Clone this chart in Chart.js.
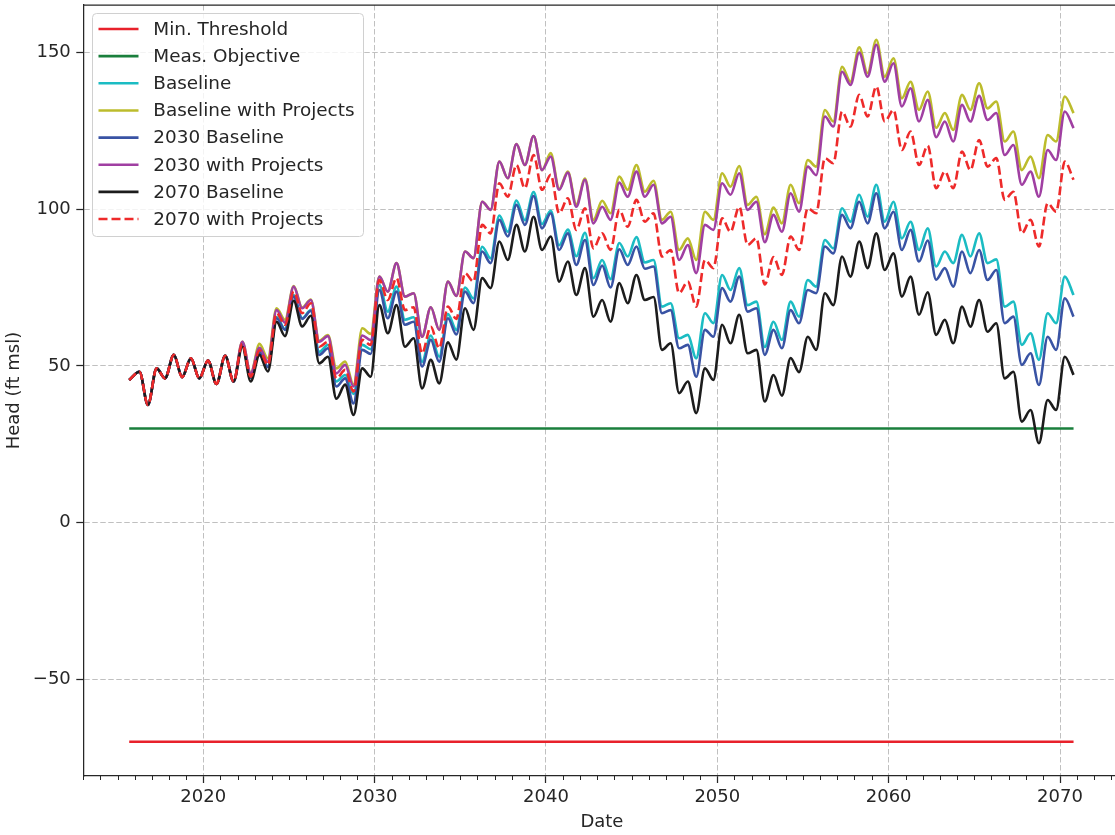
<!DOCTYPE html>
<html>
<head>
<meta charset="utf-8">
<script src="https://cdn.jsdelivr.net/npm/chart.js@4.4.1/dist/chart.umd.min.js"></script>
<style>
html, body { margin: 0; padding: 0; background: #ffffff; overflow: hidden; width: 1115px; height: 835px; }
#wrap { position: absolute; left: 0; top: 0; width: 1125px; height: 835px; }
canvas { display: block; }
</style>
</head>
<body>
<div id="wrap"><canvas id="c" width="1125" height="835" style="width:1125px;height:835px"></canvas></div>
<script>
// ---- sample dates (decimal years: seasonal highs ~.28, lows ~.77) ----
const dates = [2015.68,
  2016.28, 2016.77, 2017.28, 2017.77, 2018.28, 2018.77, 2019.28, 2019.77, 2020.28, 2020.77,
  2021.28, 2021.77, 2022.28, 2022.77, 2023.28, 2023.77, 2024.28, 2024.77, 2025.28, 2025.77,
  2026.28, 2026.77, 2027.28, 2027.77, 2028.28, 2028.77, 2029.28, 2029.77, 2030.28, 2030.77,
  2031.28, 2031.77, 2032.28, 2032.77, 2033.28, 2033.77, 2034.28, 2034.77, 2035.28, 2035.77,
  2036.28, 2036.77, 2037.28, 2037.77, 2038.28, 2038.77, 2039.28, 2039.77, 2040.28, 2040.77,
  2041.28, 2041.77, 2042.28, 2042.77, 2043.28, 2043.77, 2044.28, 2044.77, 2045.28, 2045.77,
  2046.28, 2046.77, 2047.28, 2047.77, 2048.28, 2048.77, 2049.28, 2049.77, 2050.28, 2050.77,
  2051.28, 2051.77, 2052.28, 2052.77, 2053.28, 2053.77, 2054.28, 2054.77, 2055.28, 2055.77,
  2056.28, 2056.77, 2057.28, 2057.77, 2058.28, 2058.77, 2059.28, 2059.77, 2060.28, 2060.77,
  2061.28, 2061.77, 2062.28, 2062.77, 2063.28, 2063.77, 2064.28, 2064.77, 2065.28, 2065.77,
  2066.28, 2066.77, 2067.28, 2067.77, 2068.28, 2068.77, 2069.28, 2069.77, 2070.28, 2070.79];

// ---- head values (ft msl) ----
const baseline = [45.5,
  48.1, 37.5, 49.2, 46.0, 53.5, 46.4, 52.4, 46.0, 51.7, 44.2,
  53.2, 45.0, 56.8, 46.2, 54.5, 49.8, 65.6, 61.7, 72.6, 65.2,
  67.8, 54.5, 56.7, 45.0, 47.1, 41.0, 56.7, 55.3, 75.8, 67.3,
  75.3, 64.7, 65.5, 51.3, 59.7, 52.9, 66.5, 61.5, 75.0, 71.5,
  88.0, 84.3, 98.0, 92.8, 102.8, 96.5, 105.5, 95.3, 99.5, 88.5,
  93.5, 85.0, 92.5, 78.0, 83.8, 77.7, 89.2, 84.9, 91.1, 83.0,
  83.8, 68.9, 70.0, 58.8, 59.9, 52.4, 66.8, 63.6, 79.0, 74.2,
  81.2, 69.4, 70.5, 56.0, 64.1, 58.3, 70.5, 65.7, 77.4, 75.3,
  90.2, 87.5, 100.3, 96.0, 104.6, 97.6, 107.8, 96.0, 102.4, 90.7,
  96.0, 87.0, 93.9, 81.7, 86.5, 82.8, 91.8, 84.9, 92.3, 82.8,
  84.0, 68.9, 70.5, 56.7, 60.4, 51.9, 66.8, 63.6, 78.5, 72.6];

const baselineProjects = [45.5,
  48.1, 37.5, 49.2, 46.0, 53.5, 46.4, 52.4, 46.0, 51.7, 44.2,
  53.2, 45.0, 57.7, 47.6, 57.0, 52.4, 68.4, 64.7, 75.5, 68.6,
  71.2, 58.0, 59.8, 49.2, 51.4, 44.0, 62.0, 60.2, 78.5, 73.7,
  82.8, 72.1, 73.2, 59.3, 68.7, 61.5, 76.9, 72.3, 86.5, 84.4,
  102.4, 99.8, 115.2, 109.9, 120.8, 114.1, 123.4, 112.5, 117.9, 106.5,
  112.0, 101.5, 109.8, 96.6, 102.7, 98.7, 110.4, 106.2, 114.1, 105.6,
  109.1, 96.6, 99.2, 87.0, 90.7, 83.8, 99.2, 96.6, 111.5, 107.2,
  113.8, 101.4, 104.0, 92.0, 100.5, 95.5, 107.8, 101.9, 115.7, 113.6,
  131.7, 128.0, 145.5, 140.7, 151.7, 143.4, 154.1, 142.3, 148.2, 135.4,
  140.7, 131.7, 137.6, 126.0, 130.7, 125.3, 136.5, 131.7, 140.2, 132.2,
  134.4, 121.6, 124.8, 112.5, 116.8, 109.9, 123.7, 121.6, 136.0, 130.7];

const baseline2030 = [45.5,
  48.1, 37.5, 49.2, 46.0, 53.5, 46.4, 52.4, 46.0, 51.7, 44.2,
  53.2, 45.0, 56.8, 46.2, 54.3, 49.6, 65.2, 61.5, 72.1, 65.0,
  67.5, 53.5, 55.6, 43.4, 46.0, 38.0, 55.1, 53.8, 74.2, 65.2,
  73.7, 63.1, 64.1, 49.8, 58.3, 51.3, 65.2, 60.0, 73.7, 70.0,
  86.5, 82.8, 96.6, 91.3, 101.4, 95.0, 104.2, 93.9, 98.7, 87.0,
  92.3, 82.2, 90.2, 75.8, 82.0, 75.0, 87.2, 82.2, 88.1, 81.0,
  81.7, 66.8, 67.8, 55.6, 56.7, 46.5, 61.5, 59.3, 74.8, 70.5,
  78.5, 67.3, 68.4, 53.5, 61.5, 55.6, 67.8, 63.6, 74.2, 73.2,
  88.1, 85.9, 98.2, 93.9, 102.4, 95.5, 105.1, 93.9, 99.2, 87.0,
  93.4, 83.3, 90.0, 77.5, 81.2, 75.3, 86.5, 79.6, 87.0, 77.4,
  80.6, 63.6, 65.7, 50.3, 54.0, 43.9, 59.3, 55.1, 71.6, 65.7];

const projects2030 = [45.5,
  48.1, 37.5, 49.2, 46.0, 53.5, 46.4, 52.4, 46.0, 51.7, 44.2,
  53.2, 45.0, 57.7, 47.6, 55.8, 51.3, 67.8, 63.8, 75.3, 68.4,
  71.0, 57.7, 59.5, 47.6, 50.3, 43.4, 59.7, 58.2, 78.5, 73.7,
  82.8, 72.1, 73.2, 59.3, 68.7, 61.5, 76.9, 72.3, 86.5, 84.4,
  102.4, 99.8, 115.2, 109.9, 120.8, 114.1, 123.4, 112.5, 116.8, 106.2,
  111.7, 100.8, 109.4, 95.5, 100.8, 96.6, 108.5, 104.0, 112.0, 104.0,
  107.8, 95.5, 97.6, 83.8, 88.6, 79.6, 95.0, 93.4, 108.3, 104.6,
  111.5, 99.8, 102.4, 89.5, 98.2, 92.8, 105.1, 99.2, 113.6, 110.9,
  129.6, 126.4, 143.9, 139.7, 150.0, 142.3, 152.5, 140.7, 146.6, 132.8,
  138.6, 128.0, 134.9, 123.0, 128.0, 121.6, 133.3, 128.0, 136.2, 128.5,
  130.7, 117.3, 120.5, 107.8, 112.0, 104.0, 118.9, 115.7, 131.2, 125.9];

const baseline2070 = [45.5,
  48.1, 37.5, 49.2, 46.0, 53.5, 46.4, 52.4, 46.0, 51.7, 44.2,
  53.2, 45.0, 56.1, 45.0, 53.5, 48.2, 64.1, 59.5, 70.8, 62.6,
  66.0, 50.8, 52.9, 39.5, 44.0, 34.3, 49.2, 46.5, 69.4, 60.4,
  69.4, 56.1, 58.8, 42.8, 51.9, 44.4, 57.5, 52.0, 68.4, 61.5,
  78.0, 74.8, 89.7, 83.8, 95.0, 86.5, 97.6, 87.0, 91.3, 76.9,
  83.3, 72.6, 81.2, 65.7, 71.0, 64.1, 76.4, 70.0, 79.0, 71.0,
  72.0, 55.1, 57.2, 41.3, 45.0, 34.9, 49.2, 45.5, 63.1, 57.2,
  66.3, 54.0, 55.1, 38.6, 47.1, 40.5, 52.5, 48.0, 59.3, 55.1,
  73.2, 69.4, 84.9, 78.5, 89.7, 81.2, 92.3, 80.6, 85.9, 72.1,
  78.5, 66.3, 73.5, 59.9, 64.7, 57.2, 68.9, 62.5, 71.0, 60.9,
  63.6, 46.0, 48.1, 32.2, 35.9, 25.3, 39.1, 35.9, 52.9, 47.1];

const projects2070 = [45.5,
  48.1, 37.5, 49.2, 46.0, 53.5, 46.4, 52.4, 46.0, 51.7, 44.2,
  53.2, 45.0, 57.0, 46.5, 55.0, 50.3, 66.8, 63.1, 73.7, 66.8,
  70.0, 56.1, 57.7, 46.0, 48.7, 41.8, 58.3, 56.7, 77.4, 71.0,
  78.0, 67.8, 68.7, 54.0, 62.5, 55.6, 68.9, 65.0, 79.6, 76.9,
  95.0, 92.3, 108.3, 104.0, 114.1, 106.7, 117.3, 106.2, 111.0, 98.7,
  103.5, 93.4, 100.3, 87.5, 92.3, 87.0, 99.8, 94.4, 103.0, 96.0,
  98.7, 84.9, 87.0, 73.2, 76.9, 68.9, 83.8, 81.2, 97.1, 92.8,
  100.8, 88.6, 90.7, 76.0, 84.7, 79.0, 91.3, 87.0, 100.3, 98.7,
  116.3, 114.7, 131.2, 126.4, 136.5, 129.6, 139.2, 128.0, 131.7, 118.9,
  124.8, 114.1, 120.3, 106.7, 112.0, 106.7, 118.4, 112.5, 122.1, 113.6,
  116.3, 103.0, 105.6, 92.3, 96.6, 88.1, 101.9, 99.2, 115.2, 109.4];

// constant reference levels
const levelDates = [2015.68, 2070.79];
const minThreshold = [-70, -70];
const measObjective = [30, 30];

// axis ticks
const xTickValues = [2020, 2030, 2040, 2050, 2060, 2070];
const yTickValues = [-50, 0, 50, 100, 150];

const FONT = "'DejaVu Sans', 'Liberation Sans', sans-serif";
const INK = '#262626';

function series(label, xs, ys, color, order, extra) {
  return Object.assign({
    label: label,
    data: xs.map((x, i) => ({ x: x, y: ys[i] })),
    borderColor: color,
    backgroundColor: color,
    borderWidth: 2.6,
    pointRadius: 0,
    pointHoverRadius: 0,
    fill: false,
    cubicInterpolationMode: 'monotone',
    order: order
  }, extra || {});
}

const datasets = [
  series('Min. Threshold', levelDates, minThreshold, '#e8212b', 7),
  series('Meas. Objective', levelDates, measObjective, '#1a7f3c', 6),
  series('Baseline', dates, baseline, '#1bbcc3', 5),
  series('Baseline with Projects', dates, baselineProjects, '#bcbc2c', 4),
  series('2030 Baseline', dates, baseline2030, '#3953a4', 3),
  series('2030 with Projects', dates, projects2030, '#a03fa2', 2),
  series('2070 Baseline', dates, baseline2070, '#1c1c1c', 1),
  series('2070 with Projects', dates, projects2070, '#ee2a2a', 0, { borderDash: [9, 4] })
];

const framePlugin = {
  id: 'frame',
  afterDraw(chart) {
    const { ctx, chartArea: a } = chart;
    const xs = chart.scales.x;
    ctx.save();
    ctx.strokeStyle = INK;
    ctx.lineWidth = 1.25;
    ctx.beginPath();
    ctx.moveTo(a.left, a.top);
    ctx.lineTo(a.right, a.top);
    ctx.lineTo(a.right, a.bottom);
    ctx.stroke();
    ctx.lineWidth = 1;
    ctx.beginPath();
    for (let yr = 2013; yr <= 2073; yr++) {
      if (yr % 10 === 0) continue;
      const px = Math.round(xs.getPixelForValue(yr)) + 0.5;
      ctx.moveTo(px, a.bottom);
      ctx.lineTo(px, a.bottom + 4);
    }
    ctx.stroke();
    ctx.restore();
  }
};

const legendPlugin = {
  id: 'mplLegend',
  afterDatasetsDraw(chart) {
    const ctx = chart.ctx;
    const bx = 92.5, by = 13.5, bw = 271, bh = 223, r = 4;
    ctx.save();
    ctx.beginPath();
    ctx.moveTo(bx + r, by);
    ctx.lineTo(bx + bw - r, by);
    ctx.quadraticCurveTo(bx + bw, by, bx + bw, by + r);
    ctx.lineTo(bx + bw, by + bh - r);
    ctx.quadraticCurveTo(bx + bw, by + bh, bx + bw - r, by + bh);
    ctx.lineTo(bx + r, by + bh);
    ctx.quadraticCurveTo(bx, by + bh, bx, by + bh - r);
    ctx.lineTo(bx, by + r);
    ctx.quadraticCurveTo(bx, by, bx + r, by);
    ctx.closePath();
    ctx.fillStyle = 'rgba(255,255,255,0.8)';
    ctx.fill();
    ctx.strokeStyle = '#d0d0d0';
    ctx.lineWidth = 1;
    ctx.stroke();
    chart.data.datasets.forEach((d, i) => {
      const y = 29 + 27.15 * i;
      ctx.strokeStyle = d.borderColor;
      ctx.lineWidth = 2.6;
      ctx.setLineDash(d.borderDash || []);
      ctx.beginPath();
      ctx.moveTo(98.5, y);
      ctx.lineTo(138.5, y);
      ctx.stroke();
      ctx.setLineDash([]);
      ctx.fillStyle = INK;
      ctx.font = '18.4px ' + FONT;
      ctx.textAlign = 'left';
      ctx.textBaseline = 'middle';
      ctx.fillText(d.label, 153.3, y + 1);
    });
    ctx.restore();
  }
};

new Chart(document.getElementById('c'), {
  type: 'line',
  data: { datasets: datasets },
  options: {
    responsive: false,
    animation: false,
    devicePixelRatio: 1,
    layout: { padding: { top: 5, right: 4.5, left: 0, bottom: 0 } },
    plugins: { legend: { display: false }, tooltip: { enabled: false } },
    scales: {
      x: {
        type: 'linear',
        min: 2013.0,
        max: 2073.53,
        afterBuildTicks: s => { s.ticks = xTickValues.map(v => ({ value: v })); },
        afterFit: s => { s.height = 59; s.paddingLeft = 0; s.paddingRight = 0; },
        grid: { color: '#c0c0c0', lineWidth: 1, tickLength: 7, tickColor: INK, tickWidth: 1.25 },
        border: { display: true, color: INK, width: 1.25, dash: [5.5, 2.5] },
        ticks: { color: INK, font: { family: FONT, size: 18 }, padding: 4, maxRotation: 0, autoSkip: false,
                 callback: v => String(v) },
        title: { display: true, text: 'Date', color: INK, font: { family: FONT, size: 18 }, padding: { top: 0, bottom: 2 } }
      },
      y: {
        type: 'linear',
        min: -80.94,
        max: 165.2,
        afterBuildTicks: s => { s.ticks = yTickValues.map(v => ({ value: v })); },
        afterFit: s => { s.width = 83.3; s.paddingTop = 0; s.paddingBottom = 0; },
        grid: { color: '#c0c0c0', lineWidth: 1, tickLength: 7, tickColor: INK, tickWidth: 1.25 },
        border: { display: true, color: INK, width: 1.25, dash: [5.5, 2.5] },
        ticks: { color: INK, font: { family: FONT, size: 18 }, padding: 5.5, autoSkip: false,
                 callback: v => (v < 0 ? '\u2212' + Math.abs(v) : String(v)) },
        title: { display: true, text: 'Head (ft msl)', color: INK, font: { family: FONT, size: 18 }, padding: { top: 4, bottom: 0 } }
      }
    }
  },
  plugins: [framePlugin, legendPlugin]
});
</script>
</body>
</html>
